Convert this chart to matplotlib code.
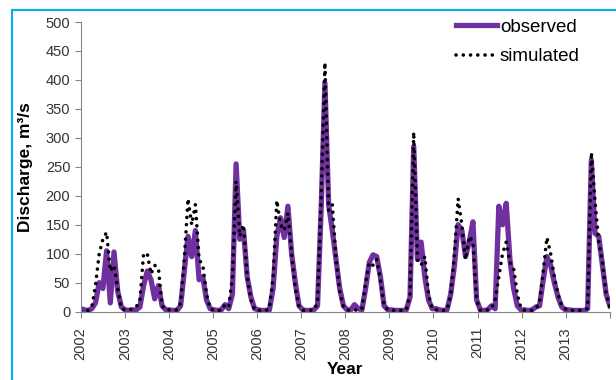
import numpy as np
import matplotlib
matplotlib.use("Agg")
import matplotlib.pyplot as plt
from matplotlib.lines import Line2D

# monthly discharge, Jan 2002 - Dec 2013 (one row per year)
observed = [
    5, 3, 2, 5, 15, 50, 40, 105, 15, 103, 35, 8,
    3, 2, 3, 3, 8, 45, 70, 55, 22, 45, 10, 3,
    3, 2, 2, 10, 70, 130, 95, 140, 55, 60, 20, 5,
    3, 2, 3, 12, 5, 30, 255, 125, 140, 60, 25, 5,
    3, 2, 2, 3, 40, 130, 162, 128, 182, 100, 50, 10,
    3, 2, 2, 3, 10, 180, 395, 185, 140, 90, 40, 10,
    3, 3, 12, 5, 3, 40, 85, 98, 95, 60, 10, 3,
    3, 2, 2, 2, 3, 25, 285, 90, 120, 60, 20, 5,
    5, 3, 2, 3, 30, 80, 150, 140, 95, 120, 155, 20,
    3, 2, 3, 10, 5, 182, 150, 187, 90, 40, 10, 3,
    3, 2, 3, 8, 10, 55, 95, 80, 50, 25, 8, 3,
    3, 2, 2, 2, 2, 5, 262, 135, 130, 80, 30, 10,
]
simulated = [
    3, 2, 2, 8, 45, 100, 125, 137, 70, 80, 40, 5,
    3, 3, 5, 8, 20, 100, 100, 65, 80, 75, 10, 3,
    3, 2, 3, 15, 90, 195, 150, 185, 90, 80, 30, 5,
    2, 2, 2, 12, 8, 60, 225, 130, 150, 60, 20, 3,
    2, 2, 2, 5, 60, 192, 150, 140, 170, 100, 40, 8,
    2, 2, 2, 3, 15, 200, 430, 175, 185, 90, 35, 8,
    3, 2, 3, 2, 5, 50, 85, 80, 90, 55, 10, 3,
    2, 2, 2, 2, 3, 30, 310, 90, 80, 95, 30, 5,
    3, 2, 2, 3, 30, 100, 195, 150, 90, 130, 120, 20,
    2, 2, 3, 5, 20, 60, 100, 120, 85, 75, 30, 5,
    2, 2, 2, 5, 15, 70, 128, 100, 60, 30, 10, 5,
    2, 2, 2, 2, 3, 5, 275, 190, 120, 85, 30, 8,
]
year_labels = ["2002", "2003", "2004", "2005", "2006", "2007",
               "2008", "2009", "2010", "2011", "2012", "2013", ""]

x = np.linspace(2002, 2014, len(observed))

plt.rcParams["font.family"] = ["Liberation Sans", "DejaVu Sans"]

fig = plt.figure(figsize=(6.16, 3.8), dpi=100)
ax = fig.add_axes([0.131, 0.18, 0.859, 0.762])

ax.plot(x, observed, color="#7030A0", lw=3.8, label="observed", solid_joinstyle="round")
ax.plot(x, simulated, color="black", lw=2.6, linestyle=(0, (0.01, 2.0)),
        dash_capstyle="round", label="simulated")

ax.set_xlim(2002, 2014)
ax.set_ylim(0, 500)
ax.set_yticks(np.arange(0, 501, 50))
ax.set_xticks(np.arange(2002, 2015))
ax.set_xticklabels(year_labels, rotation=90)
ax.tick_params(labelsize=10.5, labelcolor="#333333", color="#868686", length=4, width=0.8)
ax.tick_params(axis="x", pad=7)

for s in ["top", "right"]:
    ax.spines[s].set_visible(False)
for s in ["left", "bottom"]:
    ax.spines[s].set_color("#868686")
    ax.spines[s].set_linewidth(0.8)

ax.set_ylabel("Discharge, m³/s", fontsize=12.5, fontweight="bold")
ax.yaxis.set_label_coords(-0.09, 0.5)
ax.set_xlabel("Year", fontsize=12.5, fontweight="bold")
ax.xaxis.set_label_coords(0.5, -0.175)

ax.legend(loc="upper right", bbox_to_anchor=(0.975, 1.07), frameon=False, fontsize=13.5,
          handlelength=2.2, handletextpad=0.15, labelspacing=0.65)

# light blue frame on the left and top of the picture
fig.add_artist(Line2D([11.5 / 616, 11.5 / 616], [0, 1 - 9.5 / 380], color="#00B0F0", lw=1.5))
fig.add_artist(Line2D([11.5 / 616, 1], [1 - 9.5 / 380, 1 - 9.5 / 380], color="#00B0F0", lw=1.5))

fig.savefig("out.png", dpi=100)
